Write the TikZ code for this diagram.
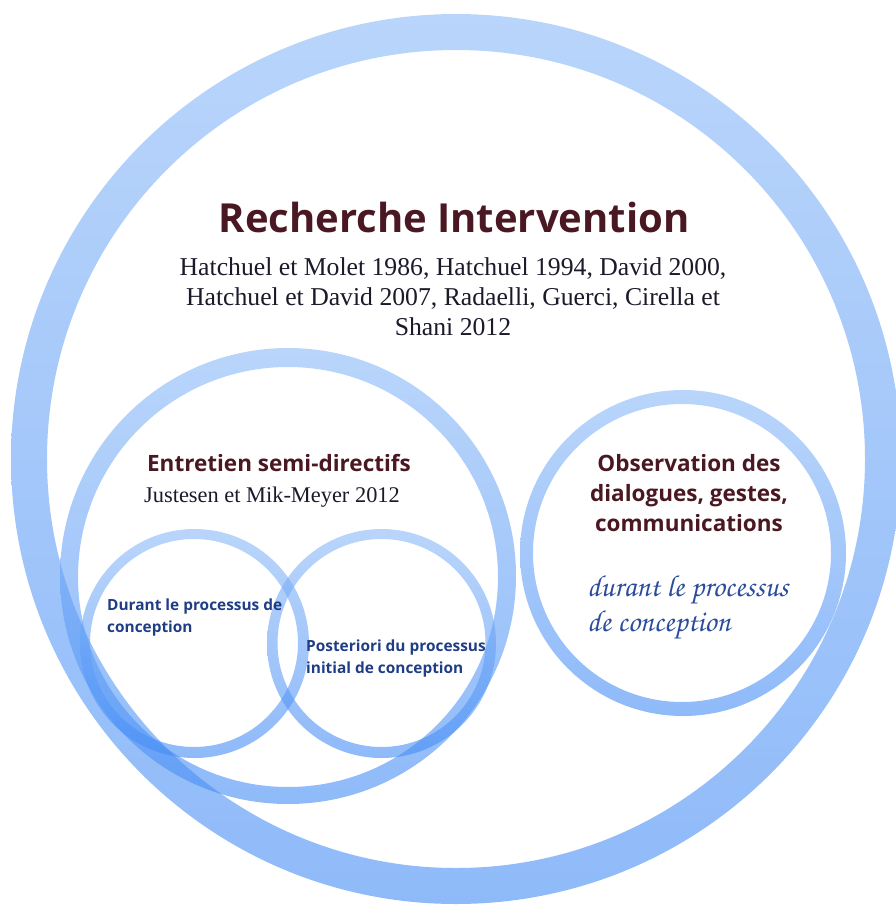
\documentclass[tikz,border=0pt]{standalone}
\usepackage{fontspec}
\setmainfont{Liberation Serif}
\newfontfamily\headfont[BoldFont=* Bold]{Open Sans}
\newfontfamily\chorusfont{texgyrechorus-mediumitalic.otf}
\definecolor{maroon}{HTML}{4A1822}
\definecolor{navy}{HTML}{1F3D85}
\definecolor{scriptblue}{HTML}{2B4C9B}
\definecolor{citetext}{HTML}{1A1A2A}
\definecolor{ringtop}{HTML}{8AB9F8}
\definecolor{ringbot}{HTML}{448CF5}
\tikzset{
  ring/.style={even odd rule, top color=ringtop, bottom color=ringbot, fill opacity=0.6, draw=none},
  titletext/.style={font=\headfont\bfseries\fontsize{40}{48}\selectfont, text=maroon, inner sep=0pt},
  headtext/.style={font=\headfont\bfseries\fontsize{22.5}{30}\selectfont, text=maroon, inner sep=0pt, align=center},
  citetxt/.style={font=\fontsize{25.7}{30}\selectfont, text=citetext, inner sep=0pt, align=center},
  smalllabel/.style={font=\headfont\bfseries\fontsize{15.4}{22}\selectfont, text=navy, inner sep=0pt, align=left, anchor=west},
  scripttxt/.style={font=\chorusfont\fontsize{30.3}{35}\selectfont, text=scriptblue, inner sep=0pt, align=left, anchor=west}
}
\begin{document}
\begin{tikzpicture}[x=1pt,y=-1pt]
\useasboundingbox (0,0) rectangle (896,905);
% rings
\path[ring] (456,459) circle[radius=445] (456,459) circle[radius=409];
\path[ring] (288,576) circle[radius=228] (288,577) circle[radius=210];
\path[ring] (683,553) circle[radius=163] (682,553) circle[radius=149];
\path[ring] (194.5,643.5) circle[radius=114.5] (194,643) circle[radius=104];
\path[ring] (381.5,643.5) circle[radius=114.5] (381.5,643) circle[radius=104];
% texts
\node[titletext] (title) at (454,217) {Recherche Intervention};
\node[citetxt] (cite) at (453,297) {Hatchuel et Molet 1986, Hatchuel 1994, David 2000,\\Hatchuel et David 2007, Radaelli, Guerci, Cirella et\\Shani 2012};
\node[headtext] (entretien) at (279,463) {Entretien semi-directifs};
\node[citetxt, font=\fontsize{22.4}{30}\selectfont] (justesen) at (272,497) {Justesen et Mik-Meyer 2012};
\node[headtext] (observation) at (689,493) {Observation des\\dialogues, gestes,\\communications};
\node[scripttxt] (durantscript) at (587,607) {durant le processus\\de conception};
\node[smalllabel] (durant) at (107,617) {Durant le processus de\\conception};
\node[smalllabel] (posteriori) at (306,658) {Posteriori du processus\\initial de conception};
\end{tikzpicture}
\end{document}
